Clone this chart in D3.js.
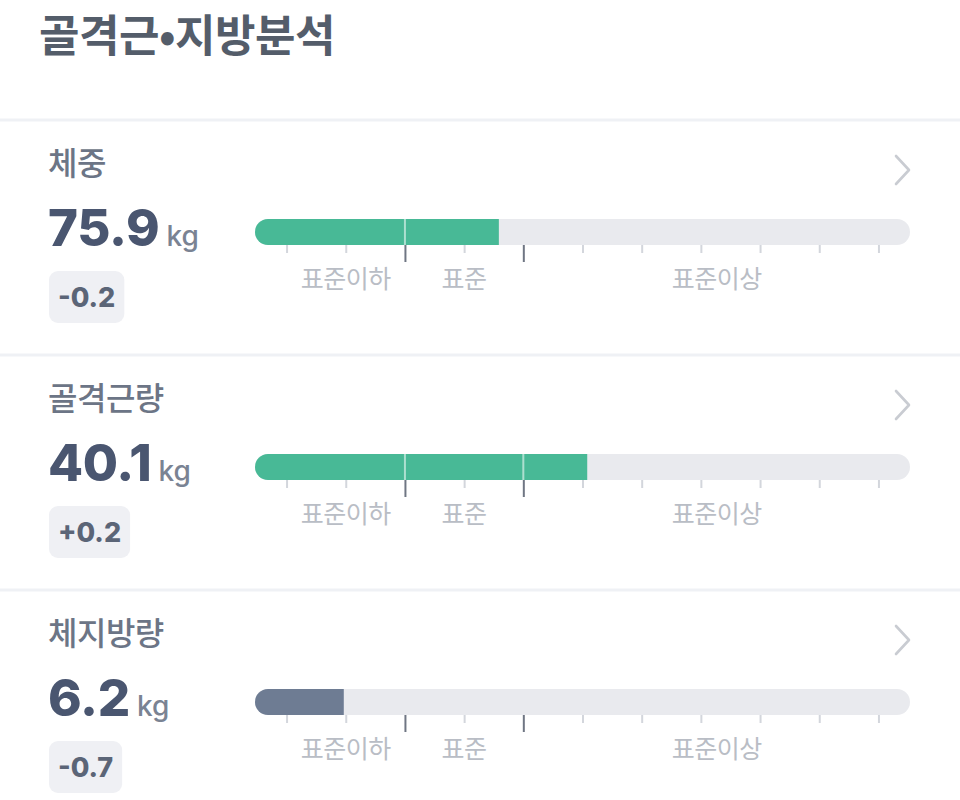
<!DOCTYPE html>
<html><head><meta charset="utf-8">
<script src="https://cdn.jsdelivr.net/npm/d3@7/dist/d3.min.js"></script>
<style>
html,body{margin:0;padding:0;background:#fff;}
svg{display:block;}
</style></head>
<body>
<svg id="chart" width="960" height="800"></svg>
<script>
const title = "골격근•지방분석";
const metrics = ["체중", "골격근량", "체지방량"];
const values = ["75.9", "40.1", "6.2"];
const units = ["kg", "kg", "kg"];
const changes = ["-0.2", "+0.2", "-0.7"];
const barPercents = [108.8, 131.2, 69.5];
const barStatus = ["normal", "normal", "low"];
const tickValues = [55, 70, 85, 100, 115, 130, 145, 160, 175, 190, 205];
const majorTicks = [85, 115];
const zoneLabels = ["표준이하", "표준", "표준이상"];
const zoneLabelPos = [70, 100, 164];
const scaleDomain = [47, 213];

const statusColor = {normal: "#48b996", low: "#6e7c93"};
const KR = "'Noto Sans CJK KR', 'Noto Sans', sans-serif";
const NUM = "Inter, Roboto, 'Noto Sans', sans-serif";

const svg = d3.select("#chart");
svg.append("rect").attr("width", 960).attr("height", 800).attr("fill", "#fff");

svg.append("text").attr("x", 39).attr("y", 52)
  .attr("font-family", KR).attr("font-weight", 700).attr("font-size", 44)
  .attr("letter-spacing", -0.5)
  .attr("fill", "#545d6a").text(title);

const x = d3.scaleLinear().domain(scaleDomain).range([255, 910]);
const barH = 26;
const sectionTop = d3.scaleLinear().domain([0, 1]).range([120, 355]);

metrics.forEach((m, i) => {
  const top = sectionTop(i);
  const g = svg.append("g").attr("transform", `translate(0,${top})`);

  g.append("line").attr("x1", 0).attr("x2", 960).attr("y1", 0).attr("y2", 0)
    .attr("stroke", "#eff1f5").attr("stroke-width", 3);

  g.append("text").attr("x", 48).attr("y", 55)
    .attr("font-family", KR).attr("font-weight", 500).attr("font-size", 32)
    .attr("letter-spacing", -0.5)
    .attr("fill", "#6c7586").text(m);

  // chevron
  g.append("path").attr("d", "M896,36 L909,50 L896,64")
    .attr("fill", "none").attr("stroke", "#c9ccd2").attr("stroke-width", 2.6)
    .attr("stroke-linecap", "round").attr("stroke-linejoin", "round");

  // value + unit
  const vt = g.append("text").attr("x", 48).attr("y", 126)
    .attr("font-family", NUM).attr("font-weight", 800).attr("font-size", 51)
    .attr("letter-spacing", -0.3)
    .attr("fill", "#4a5670").text(values[i]);
  const vw = vt.node().getComputedTextLength();
  g.append("text").attr("x", 48 + vw + 7).attr("y", 126)
    .attr("font-family", NUM).attr("font-weight", 500).attr("font-size", 28)
    .attr("fill", "#7a8393").text(units[i]);

  // badge
  const bg = g.append("g");
  const bt = bg.append("text").attr("y", 187)
    .attr("font-family", NUM).attr("font-weight", 800).attr("font-size", 27)
    .attr("fill", "#5b6577").attr("text-anchor", "middle").text(changes[i]);
  const bw = bt.node().getComputedTextLength() + 18;
  bg.insert("rect", "text").attr("x", 49).attr("y", 151).attr("width", bw).attr("height", 52)
    .attr("rx", 9).attr("fill", "#eff0f4");
  bt.attr("x", 49 + bw / 2);

  // bar
  const by = 99;
  const clipId = "clip" + i;
  g.append("clipPath").attr("id", clipId).append("rect")
    .attr("x", x(scaleDomain[0])).attr("y", by)
    .attr("width", x(scaleDomain[1]) - x(scaleDomain[0])).attr("height", barH).attr("rx", barH / 2);
  const bar = g.append("g").attr("clip-path", `url(#${clipId})`);
  bar.append("rect").attr("x", x(scaleDomain[0])).attr("y", by)
    .attr("width", x(scaleDomain[1]) - x(scaleDomain[0])).attr("height", barH).attr("fill", "#e9eaee");
  bar.append("rect").attr("x", x(scaleDomain[0])).attr("y", by)
    .attr("width", x(barPercents[i]) - x(scaleDomain[0])).attr("height", barH)
    .attr("fill", statusColor[barStatus[i]]);
  bar.selectAll("line.div").data(majorTicks.filter(t => t < barPercents[i])).join("line")
    .attr("class", "div")
    .attr("x1", d => x(d)).attr("x2", d => x(d)).attr("y1", by).attr("y2", by + barH)
    .attr("stroke", "#ffffff").attr("stroke-opacity", 0.55).attr("stroke-width", 2);

  // ticks via axis
  const axis = d3.axisBottom(x).tickValues(tickValues)
    .tickSize(8).tickFormat("");
  const ag = g.append("g").attr("transform", `translate(0,${by + barH})`).call(axis);
  ag.select(".domain").remove();
  ag.selectAll(".tick line")
    .attr("stroke", d => majorTicks.includes(d) ? "#6f7683" : "#d3d6dc")
    .attr("stroke-width", 2)
    .attr("y2", d => majorTicks.includes(d) ? 17 : 8);

  g.selectAll("text.zone").data(zoneLabels).join("text").attr("class", "zone")
    .attr("x", (d, k) => x(zoneLabelPos[k])).attr("y", 168)
    .attr("text-anchor", "middle")
    .attr("font-family", KR).attr("font-weight", 400).attr("font-size", 25)
    .attr("letter-spacing", -0.5)
    .attr("fill", "#b9bdc5").text(d => d);
});
</script>
</body></html>
